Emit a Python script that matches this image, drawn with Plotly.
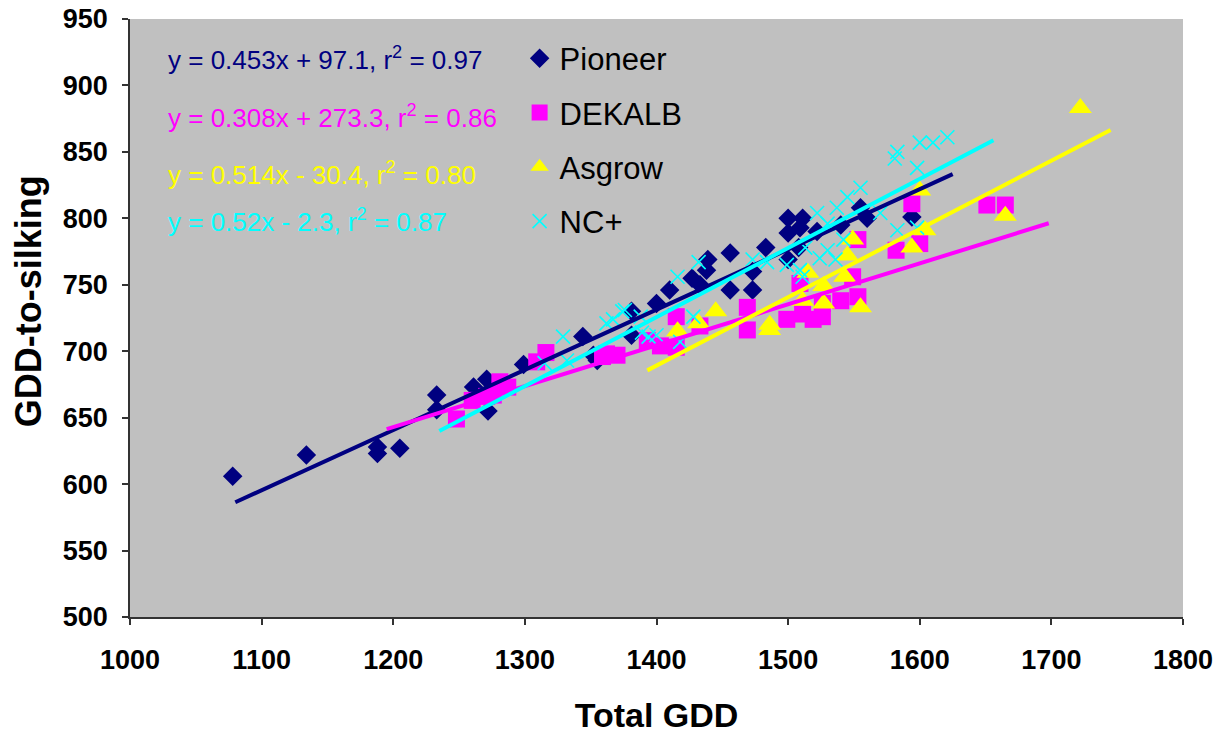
import plotly.graph_objects as go

# ---------------- data ----------------
pioneer_x = [1078, 1134, 1188, 1188, 1205, 1233, 1233, 1261, 1271, 1272, 1299, 1344, 1352, 1355,
             1381, 1381, 1400, 1410, 1427, 1433, 1438, 1439, 1456, 1456, 1473, 1473, 1483, 1500,
             1511, 1500, 1509, 1500, 1508, 1522, 1540, 1555, 1560, 1594]
pioneer_y = [606, 622, 628, 623, 627, 667, 656, 673, 679, 655, 690, 711, 697, 693,
             730, 712, 736, 746, 755, 750, 761, 769, 774, 746, 760, 746, 778, 800,
             800, 789, 793, 769, 778, 790, 795, 808, 800, 801]

dekalb_x = [1248, 1260, 1271, 1276, 1281, 1287, 1309, 1316, 1359, 1362, 1370, 1393, 1403, 1415,
            1415, 1433, 1469, 1469, 1499, 1509, 1511, 1519, 1526, 1526, 1540, 1549, 1553, 1553,
            1582, 1594, 1600, 1651, 1665]
dekalb_y = [649, 663, 666, 667, 677, 673, 692, 699, 696, 698, 697, 708, 704, 703,
            726, 719, 733, 716, 724, 751, 728, 724, 736, 726, 738, 756, 741, 784,
            776, 811, 781, 810, 810]

asgrow_x = [1416, 1432, 1445, 1486, 1486, 1511, 1515, 1527, 1527, 1543, 1545, 1549, 1555, 1594,
            1600, 1604, 1665, 1722]
asgrow_y = [715, 721, 730, 720, 716, 738, 759, 736, 749, 756, 772, 784, 733, 778,
            821, 791, 802, 883]

ncplus_x = [1315, 1329, 1332, 1362, 1367, 1374, 1376, 1388, 1389, 1394, 1400, 1418, 1416, 1428,
            1432, 1473, 1484, 1499, 1509, 1511, 1513, 1522, 1524, 1530, 1530, 1536, 1537, 1542,
            1545, 1555, 1570, 1581, 1583, 1583, 1598, 1598, 1600, 1610, 1621]
ncplus_y = [691, 711, 693, 721, 724, 730, 731, 726, 714, 711, 712, 707, 756, 726,
            767, 769, 767, 765, 761, 756, 778, 804, 770, 796, 776, 769, 808, 784,
            816, 823, 804, 845, 850, 791, 838, 793, 857, 857, 861]

series_names = ["Pioneer", "DEKALB", "Asgrow", "NC+"]
trend_slope = [0.453, 0.308, 0.514, 0.52]
trend_intercept = [97.1, 273.3, -30.4, -2.3]
trend_xmin = [1080, 1195, 1393, 1235]
trend_xmax = [1625, 1698, 1745, 1656]
equation_labels = [
    "y = 0.453x + 97.1, r<sup>2</sup> = 0.97",
    "y = 0.308x + 273.3, r<sup>2</sup> = 0.86",
    "y = 0.514x - 30.4, r<sup>2</sup> = 0.80",
    "y = 0.52x - 2.3, r<sup>2</sup> = 0.87",
]
x_ticks = [1000, 1100, 1200, 1300, 1400, 1500, 1600, 1700, 1800]
y_ticks = [500, 550, 600, 650, 700, 750, 800, 850, 900, 950]
x_title = "Total GDD"
y_title = "GDD-to-silking"

# ---------------- styles ----------------
colors = ["#000080", "#FF00FF", "#FFFF00", "#00FFFF"]
FONT = "Liberation Sans, Arial, sans-serif"

fig = go.Figure()

xs = [pioneer_x, dekalb_x, asgrow_x, ncplus_x]
ys = [pioneer_y, dekalb_y, asgrow_y, ncplus_y]
markers = [
    dict(symbol="diamond", size=15, color=colors[0]),
    dict(symbol="square", size=17, color=colors[1]),
    dict(symbol="triangle-up", size=20, color=colors[2]),
    dict(symbol="x-thin", size=14, color=colors[3], line=dict(color=colors[3], width=1.6)),
]

for i in range(4):
    fig.add_trace(go.Scatter(
        x=xs[i], y=ys[i], mode="markers", name=series_names[i],
        marker=markers[i], legendgroup=series_names[i], cliponaxis=False,
    ))

for i in range(4):
    tx = [trend_xmin[i], trend_xmax[i]]
    ty = [trend_slope[i] * v + trend_intercept[i] for v in tx]
    fig.add_trace(go.Scatter(
        x=tx, y=ty, mode="lines", line=dict(color=colors[i], width=4),
        showlegend=False, hoverinfo="skip",
    ))

eq_y = [0.9347, 0.8377, 0.7424, 0.6638]
for i in range(4):
    fig.add_annotation(
        x=0.034, y=eq_y[i], xref="paper", yref="paper", xanchor="left", yanchor="middle",
        text=equation_labels[i], showarrow=False,
        font=dict(family=FONT, size=26, color=colors[i]),
    )

# y-axis title as a rotated annotation (sits a little above the plot centre, as in the reference)
fig.add_annotation(
    x=-0.0969, y=0.528, xref="paper", yref="paper", xanchor="center", yanchor="middle",
    text="<b>" + y_title + "</b>", textangle=-90, showarrow=False,
    font=dict(family=FONT, size=36, color="black"),
)

fig.update_layout(
    width=1222, height=738,
    margin=dict(l=130, r=39, t=19, b=121),
    paper_bgcolor="white", plot_bgcolor="#C0C0C0",
    font=dict(family=FONT, color="black"),
    legend=dict(
        x=0.370, y=0.979, xanchor="left", yanchor="top",
        bgcolor="rgba(0,0,0,0)", font=dict(family=FONT, size=31, color="black"),
        tracegroupgap=11, itemsizing="trace",
    ),
    showlegend=True,
)

fig.update_xaxes(
    range=[1000, 1800], tickvals=x_ticks, ticktext=[str(v) for v in x_ticks],
    showgrid=False, zeroline=False, showline=True, linecolor="#333333", linewidth=1.5,
    ticks="outside", ticklen=6, tickcolor="#333333", tickwidth=1.5,
    tickfont=dict(family=FONT, size=27, color="black", weight="bold"),
    ticklabelstandoff=12, automargin=False,
    title=dict(text="<b>" + x_title + "</b>", font=dict(family=FONT, size=34, color="black"), standoff=29),
)
fig.update_yaxes(
    range=[500, 950], tickvals=y_ticks, ticktext=[str(v) for v in y_ticks],
    showgrid=False, zeroline=False, showline=True, linecolor="#333333", linewidth=1.5,
    ticks="outside", ticklen=6, tickcolor="#333333", tickwidth=1.5,
    tickfont=dict(family=FONT, size=27, color="black", weight="bold"),
    ticklabelstandoff=9, automargin=False,
)

fig.write_html("out.html", post_script="document.body.style.margin='0';",
               config={"displayModeBar": False})
